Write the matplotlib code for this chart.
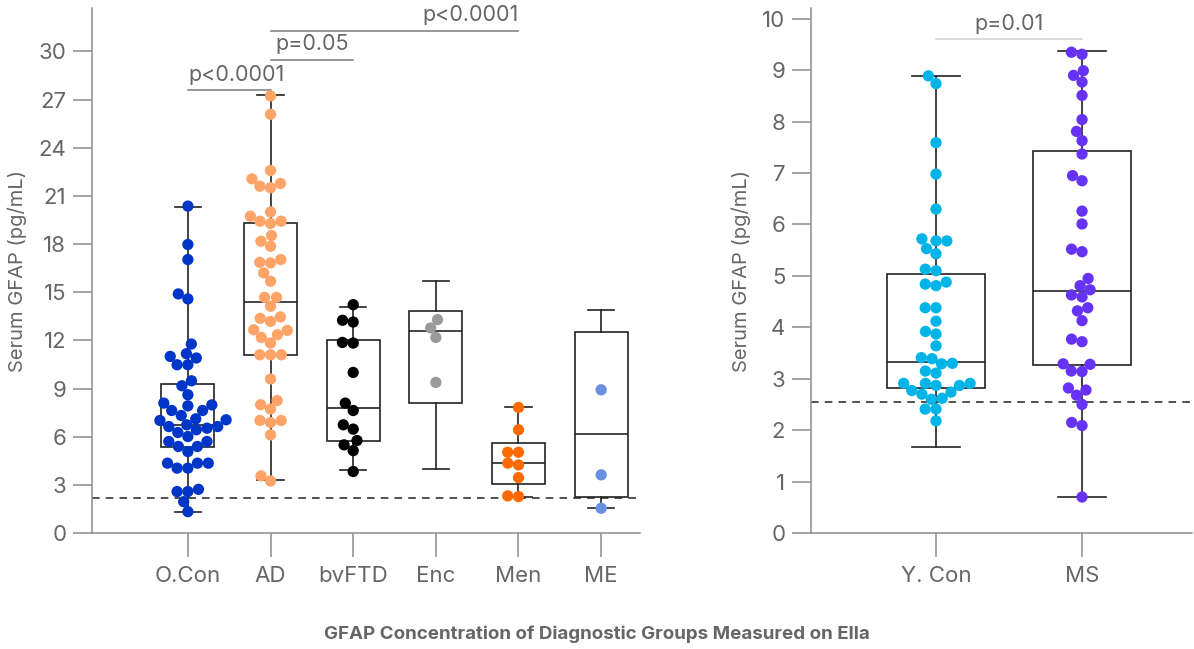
import numpy as np
import matplotlib.pyplot as plt

plt.rcParams['font.family'] = ['Inter', 'DejaVu Sans']

# ---- left panel data (pg/mL) ----
left_groups = ['O.Con', 'AD', 'bvFTD', 'Enc', 'Men', 'ME']
left_colors = ['#0036c8', '#ffa468', '#000000', '#9a9a9a', '#ff6a00', '#6a8ee0']
ocon = [20.36, 17.97, 17.03, 14.89, 14.58, 11.77, 11.17, 10.9, 11.0, 10.48, 10.48,
        9.48, 9.17, 8.61, 8.09, 7.98, 7.92, 7.63, 7.63, 7.32, 7.11, 7.05, 7.01,
        6.74, 6.63, 6.63, 6.53, 6.43, 6.26, 6.01, 5.70, 5.70, 5.39, 5.39, 5.07,
        4.35, 4.35, 4.35, 4.04, 4.04, 2.58, 2.72, 2.58, 1.95, 1.33]
ad = [27.22, 26.08, 22.58, 22.06, 21.77, 21.6, 21.5, 20.0, 19.73, 19.42, 19.42,
      19.28, 18.53, 18.17, 17.86, 17.03, 16.86, 16.82, 16.2, 15.68, 14.68, 14.68,
      14.12, 13.46, 13.37, 13.18, 12.66, 12.62, 12.35, 12.18, 11.83, 11.1, 11.1,
      11.1, 9.59, 8.25, 7.99, 7.72, 7.01, 6.88, 7.01, 6.11, 3.56, 3.24]
bvftd = [14.22, 13.14, 13.25, 11.83, 11.87, 10.0, 8.09, 7.63, 6.74, 6.47, 5.76,
         5.49, 5.13, 3.83]
enc = [13.29, 12.77, 12.18, 9.38]
men = [7.82, 6.43, 5.03, 5.03, 4.35, 4.24, 3.45, 2.27, 2.31]
me = [8.92, 3.62, 1.54]
left_data = [ocon, ad, bvftd, enc, men, me]

# box summaries as drawn (q1, median, q3, min, max)
left_q1 = [5.35, 11.06, 5.70, 8.09, 3.04, 2.23]
left_med = [6.74, 14.39, 7.78, 12.56, 4.39, 6.16]
left_q3 = [9.28, 19.32, 12.04, 13.81, 5.63, 12.54]
left_lo = [1.33, 3.31, 3.93, 3.99, 2.26, 1.54]
left_hi = [20.30, 27.30, 14.08, 15.72, 7.84, 13.87]
left_cutoff = 2.2

left_ticks = [0, 3, 6, 9, 12, 15, 18, 21, 24, 27, 30]
# (group a, group b, height, label)
left_sig = [(0, 1, 27.57, 'p<0.0001'), (1, 2, 29.46, 'p=0.05'), (1, 4, 31.27, 'p<0.0001')]

# ---- right panel data ----
right_groups = ['Y. Con', 'MS']
right_colors = ['#00b4e8', '#6633f5']
ycon = [8.89, 8.74, 7.59, 6.98, 6.30, 5.68, 5.68, 5.72, 5.53, 5.43, 5.13, 5.10,
        4.88, 4.84, 4.81, 4.38, 4.38, 4.12, 3.87, 3.92, 3.64, 3.41, 3.39, 3.30,
        3.29, 3.15, 3.11, 2.91, 2.87, 2.87, 2.91, 2.91, 2.77, 2.70, 2.74, 2.62,
        2.60, 2.41, 2.41, 2.18]
ms = [9.35, 9.31, 8.99, 8.90, 8.77, 8.51, 8.04, 7.81, 7.63, 7.37, 6.95, 6.85,
      6.26, 6.01, 5.52, 5.47, 4.95, 4.81, 4.73, 4.63, 4.59, 4.38, 4.32, 4.13,
      3.72, 3.77, 3.29, 3.28, 3.14, 3.15, 2.82, 2.78, 2.68, 2.50, 2.15, 2.09, 0.70]
right_data = [ycon, ms]
right_q1 = [2.82, 3.26]
right_med = [3.33, 4.70]
right_q3 = [5.04, 7.43]
right_lo = [1.67, 0.70]
right_hi = [8.89, 9.38]
right_cutoff = 2.55
right_ticks = list(range(0, 11))
right_sig = [(0, 1, 9.6, 'p=0.01')]

GRAY = '#666666'
AX = '#8c8c8c'


def swarm_offsets(vals_px, d):
    placed = []
    out = np.zeros(len(vals_px))
    for i in np.argsort(vals_px):
        y = vals_px[i]
        near = [(px, py) for px, py in placed if abs(py - y) < d]
        cands = [0.0]
        for px, py in near:
            w = np.sqrt(d * d - (py - y) ** 2)
            cands += [px + w, px - w]
        cands.sort(key=lambda c: (abs(c), c))
        for c in cands:
            if all((c - px) ** 2 + (y - py) ** 2 >= d * d - 1e-6 for px, py in near):
                out[i] = c
                placed.append((c, y))
                break
    return out


def panel(ax, groups, colors, data, q1, med, q3, lo, hi, cutoff, ticks, sig,
          xlim, ylim, width, sigcolor, sigpos):
    ax.set_xlim(*xlim)
    ax.set_ylim(*ylim)
    stats = [dict(med=med[i], q1=q1[i], q3=q3[i], whislo=lo[i], whishi=hi[i], fliers=[])
             for i in range(len(groups))]
    ax.bxp(stats, positions=range(len(groups)), widths=width, showfliers=False,
           patch_artist=True, manage_ticks=False,
           boxprops=dict(facecolor='white', edgecolor='#222222', linewidth=1.2),
           medianprops=dict(color='#222222', linewidth=1.2),
           whiskerprops=dict(color='#222222', linewidth=1.2),
           capprops=dict(color='#222222', linewidth=1.2), zorder=2)

    o = ax.transData.transform([(0, 0), (1, 1)])
    ppx, ppy = o[1] - o[0]
    for i, vals in enumerate(data):
        v = np.array(vals)
        off = swarm_offsets(v * ppy, 10.8)
        ax.scatter(i + off / ppx, v, s=66, color=colors[i], edgecolors='none',
                   zorder=3, clip_on=False)

    ax.axhline(cutoff, color='#222222', lw=1.1, ls=(0, (5, 4)), zorder=1)

    for (a, b, h, lab), pos in zip(sig, sigpos):
        ax.plot([a, b], [h, h], color=sigcolor, lw=1.1, clip_on=False)
        if pos == 'left':
            x, ha = a, 'left'
        elif pos == 'right':
            x, ha = b, 'right'
        else:
            x, ha = (a + b) / 2, 'center'
        ax.annotate(lab, (x, h), xytext=(0, 4), textcoords='offset points',
                    ha=ha, va='bottom', fontsize=15.5, color=GRAY)

    for s in ['top', 'right']:
        ax.spines[s].set_visible(False)
    for s in ['left', 'bottom']:
        ax.spines[s].set_color(AX)
        ax.spines[s].set_linewidth(1.1)
    ax.set_yticks(ticks)
    ax.set_xticks(range(len(groups)))
    ax.set_xticklabels(groups)
    ax.tick_params(axis='y', length=13.5, width=1.1, color=AX, labelcolor=GRAY,
                   labelsize=16, pad=5)
    ax.tick_params(axis='x', length=17, width=1.1, color=AX, labelcolor=GRAY,
                   labelsize=16, pad=7)
    ax.set_ylabel('Serum GFAP (pg/mL)', color=GRAY, fontsize=14.5, labelpad=8)


fig = plt.figure(figsize=(11.94, 6.49), dpi=100)
H = 649.0
W = 1194.0
bot = (H - 533) / H
hgt = 525 / H

ax1 = fig.add_axes([92 / W, bot, 548 / W, hgt])
panel(ax1, left_groups, left_colors, left_data, left_q1, left_med, left_q3,
      left_lo, left_hi, left_cutoff, left_ticks, left_sig,
      (-1.16, 5.47), (0, 32.7), 0.64, '#7a7a7a', ['left', 'center', 'right'])

ax2 = fig.add_axes([811 / W, bot, 381 / W, hgt])
panel(ax2, right_groups, right_colors, right_data, right_q1, right_med, right_q3,
      right_lo, right_hi, right_cutoff, right_ticks, right_sig,
      (-0.856, 1.753), (0, 10.21), 0.665, '#d0d0d0', ['center'])

fig.text(0.5, 1 - 634 / H, 'GFAP Concentration of Diagnostic Groups Measured on Ella',
         ha='center', va='center', fontsize=13.5, fontweight='bold', color=GRAY)

fig.savefig('out.png', dpi=100)
